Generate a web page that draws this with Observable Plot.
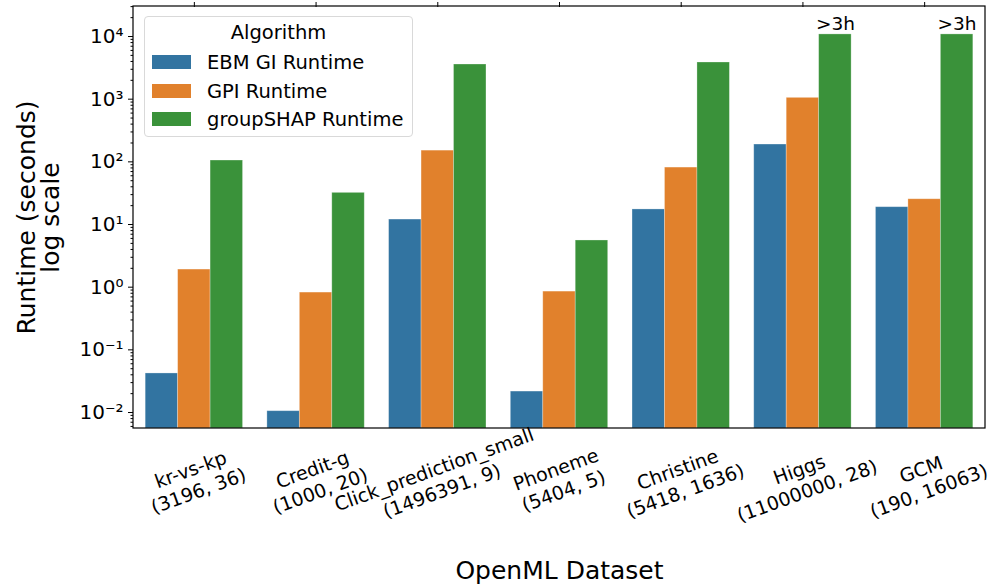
<!DOCTYPE html>
<html>
<head>
<meta charset="utf-8">
<script src="https://cdn.jsdelivr.net/npm/d3@7"></script>
<script src="https://cdn.jsdelivr.net/npm/@observablehq/plot@0.6"></script>
<style>
  html, body { margin: 0; padding: 0; background: #fff; }
  #wrap { position: relative; width: 992px; height: 587px; font-family: "DejaVu Sans", sans-serif; }
  #legend { position: absolute; left: 144px; top: 16px; width: 269px; height: 121px;
    border: 1px solid #d9d9d9; border-radius: 4px; background: rgba(255,255,255,0.85);
    box-sizing: border-box; color: #000; font-size: 19.5px; }
  #legend .title { position: absolute; left: 0; right: 0; top: 4px; text-align: center; }
  #legend .row { position: absolute; left: 7px; height: 28px; display: flex; align-items: center; }
  #legend .sw { width: 39px; height: 14px; margin-right: 16px; }
</style>
</head>
<body>
<div id="wrap"></div>
<script>
// ---- data ----
const datasets = ["kr-vs-kp", "Credit-g", "Click_prediction_small", "Phoneme", "Christine", "Higgs", "GCM"];
const sizes = ["(3196, 36)", "(1000, 20)", "(1496391, 9)", "(5404, 5)", "(5418, 1636)", "(11000000, 28)", "(190, 16063)"];
const algorithms = ["EBM GI Runtime", "GPI Runtime", "groupSHAP Runtime"];
const ebmRuntime = [0.042, 0.0105, 12, 0.0216, 17.4, 189, 18.9];
const gpiRuntime = [1.91, 0.82, 151, 0.85, 81, 1050, 25.3];
const groupShapRuntime = [105, 32, 3575, 5.56, 3850, 10800, 10800];
const notes = ["", "", "", "", "", ">3h", ">3h"];
const colors = ["#3274a1", "#e1812c", "#3a923a"];
const majorTicks = [0.01, 0.1, 1, 10, 100, 1000, 10000];
const yLabel = "Runtime (seconds)\nlog scale";
const xLabel = "OpenML Dataset";

// ---- build tables ----
const series = [ebmRuntime, gpiRuntime, groupShapRuntime];
const rows = [];
datasets.forEach((ds, i) => algorithms.forEach((a, j) => rows.push({dataset: ds, algorithm: a, value: series[j][i]})));
const labelRows = datasets.map((ds, i) => ({dataset: ds, text: ds + "\n" + sizes[i]}));
const noteRows = datasets.map((ds, i) => ({dataset: ds, algorithm: algorithms[2], value: groupShapRuntime[i], text: notes[i]})).filter(d => d.text);

const yMin = Math.pow(10, -2.255), yMax = Math.pow(10, 4.479);
const minorTicks = [];
for (let e = -3; e <= 4; e++) for (let k = 2; k <= 9; k++) { const v = k * Math.pow(10, e); if (v >= yMin && v <= yMax) minorTicks.push(v); }
const sup = {"-": "⁻", "0": "⁰", "1": "¹", "2": "²", "3": "³", "4": "⁴", "5": "⁵", "6": "⁶", "7": "⁷", "8": "⁸", "9": "⁹"};
const fmt = d => "10" + String(Math.round(Math.log10(d))).split("").map(c => sup[c]).join("");

const W = 992, H = 587, mL = 133, mR = 7, mT = 6, mB = 159;
const padOuter = 0.1, padInner = 0.2;
// the facet group area is inset by the outer band padding; shift the y axis back to the axes box edge
const outerPx = (W - mL - mR) / (datasets.length - padInner + 2 * padOuter) * padOuter;

const chart = Plot.plot({
  width: W,
  height: H,
  marginLeft: mL,
  marginRight: mR,
  marginTop: mT,
  marginBottom: mB,
  style: {fontFamily: "DejaVu Sans", fontSize: "19px", color: "#000", background: "transparent"},
  fx: {domain: datasets, paddingInner: padInner, paddingOuter: padOuter, round: false},
  x: {domain: algorithms, padding: 0, round: false, axis: null},
  y: {type: "log", domain: [yMin, yMax]},
  color: {domain: algorithms, range: colors},
  marks: [
    Plot.barY(rows, {fx: "dataset", x: "algorithm", y1: yMin, y2: "value", fill: "algorithm",
      stroke: "white", strokeOpacity: 0.35, strokeWidth: 0.8}),
    Plot.text(noteRows, {fx: "dataset", x: "algorithm", y: "value", text: "text", lineAnchor: "bottom", dy: -4, fontSize: 18.5, fill: "#000"}),
    Plot.axisY({ticks: minorTicks, tickSize: 2.5, tickFormat: () => "", label: null, dx: -outerPx}),
    Plot.axisY({ticks: majorTicks, tickSize: 5, tickPadding: 5, tickFormat: fmt, label: null, fontSize: 20, dx: -outerPx}),
    Plot.axisFx({tickSize: 5, tickFormat: () => "", label: null}),
    Plot.text(labelRows, {fx: "dataset", frameAnchor: "bottom", text: "text", rotate: -20, dy: 51,
      textAnchor: "middle", lineAnchor: "middle", lineHeight: 1.2, fontSize: 19, fill: "#000"}),
    Plot.text([xLabel], {facet: "super", frameAnchor: "bottom", text: d => d, dy: 142, textAnchor: "middle", lineAnchor: "middle", fontSize: 25, fill: "#000"}),
    Plot.text([yLabel], {facet: "super", frameAnchor: "left", text: d => d, rotate: -90, dx: -94 - outerPx, textAnchor: "middle", lineAnchor: "middle", lineHeight: 0.95, fontSize: 25, fill: "#000"})
  ]
});

// axes box (spines) from the plot's own y range and the full horizontal extent
const yr = chart.scale("y").range;
d3.select(chart).append("rect")
  .attr("x", mL).attr("y", Math.min(...yr))
  .attr("width", W - mL - mR).attr("height", Math.abs(yr[0] - yr[1]))
  .attr("fill", "none").attr("stroke", "#000").attr("stroke-width", 1.2);

const wrap = document.getElementById("wrap");
wrap.appendChild(chart);

const legend = document.createElement("div");
legend.id = "legend";
let html = '<div class="title">Algorithm</div>';
const rowTops = [31, 60, 88];
algorithms.forEach((a, i) => {
  html += `<div class="row" style="top:${rowTops[i]}px"><div class="sw" style="background:${colors[i]}"></div><span>${a}</span></div>`;
});
legend.innerHTML = html;
wrap.appendChild(legend);
</script>
</body>
</html>
